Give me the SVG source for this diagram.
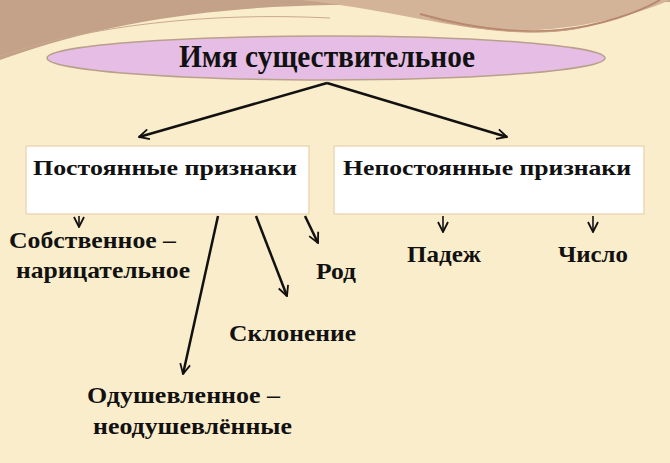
<svg xmlns="http://www.w3.org/2000/svg" width="670" height="463" viewBox="0 0 670 463">
<defs>
<style>
.t{font-family:"Liberation Serif","Times New Roman",serif;font-weight:bold;fill:#111;}
.box{fill:#fff;stroke:#ecd9b4;stroke-width:1.5;}
.ln{stroke:#111;stroke-width:2.5;fill:none;}
.sm{stroke:#111;stroke-width:1.6;fill:none;}
</style>
<marker id="ah" viewBox="0 0 12 12" refX="11" refY="6" markerWidth="12" markerHeight="12" markerUnits="userSpaceOnUse" orient="auto">
<path d="M1,1 L11,6 L1,11" fill="none" stroke="#111" stroke-width="1.8"/>
</marker>
</defs>
<rect x="0" y="0" width="670" height="463" fill="#faedcb"/>
<path d="M0,0 H670 V2 C560,4 420,3 330,5 C220,7 110,20 0,60 Z" fill="#c4a189"/>
<path d="M0,56 C90,25 210,12 330,18" fill="none" stroke="#c9a98f" stroke-width="1"/>
<path d="M300,0 C380,8 440,26 495,30 C560,34 630,18 670,0 Z" fill="#d3b498"/>
<path d="M420,14 C470,28 520,34 560,30 C600,26 640,12 660,0" fill="none" stroke="#b8896e" stroke-width="2"/>
<path d="M430,18 C480,32 540,36 580,28" fill="none" stroke="#c79c80" stroke-width="1"/>
<g id="root">
<ellipse cx="326" cy="58" rx="279" ry="22" fill="#e6bde5" stroke="#b9a08c" stroke-width="1.5"/>
<text class="t" x="179" y="67" font-size="31" textLength="296" lengthAdjust="spacingAndGlyphs">Имя существительное</text>
</g>
<g id="permanent">
<rect class="box" x="26" y="146" width="283" height="68"/>
<text class="t" x="33" y="175" font-size="22" textLength="264" lengthAdjust="spacingAndGlyphs">Постоянные признаки</text>
</g>
<g id="nonpermanent">
<rect class="box" x="334" y="146" width="310" height="68"/>
<text class="t" x="343" y="175" font-size="22" textLength="288" lengthAdjust="spacingAndGlyphs">Непостоянные признаки</text>
</g>
<g id="proper">
<text class="t" x="9" y="248" font-size="23" textLength="167" lengthAdjust="spacingAndGlyphs">Собственное –</text>
<text class="t" x="16" y="278" font-size="23" textLength="174" lengthAdjust="spacingAndGlyphs">нарицательное</text>
</g>
<g id="gender">
<text class="t" x="316" y="279" font-size="23" textLength="40" lengthAdjust="spacingAndGlyphs">Род</text>
</g>
<g id="declension">
<text class="t" x="229" y="341" font-size="23" textLength="127" lengthAdjust="spacingAndGlyphs">Склонение</text>
</g>
<g id="animate">
<text class="t" x="87" y="403" font-size="23" textLength="193" lengthAdjust="spacingAndGlyphs">Одушевленное –</text>
<text class="t" x="93" y="434" font-size="23" textLength="199" lengthAdjust="spacingAndGlyphs">неодушевлённые</text>
</g>
<g id="case">
<text class="t" x="407" y="262" font-size="23" textLength="74" lengthAdjust="spacingAndGlyphs">Падеж</text>
</g>
<g id="number">
<text class="t" x="558" y="262" font-size="23" textLength="70" lengthAdjust="spacingAndGlyphs">Число</text>
</g>
<g id="connectors">
<line class="ln" x1="327" y1="83" x2="139" y2="137" marker-end="url(#ah)"/>
<line class="ln" x1="327" y1="83" x2="507" y2="137" marker-end="url(#ah)"/>
<line class="sm" x1="79" y1="216" x2="79" y2="227" marker-end="url(#ah)"/>
<line class="ln" x1="218" y1="216" x2="183" y2="374" marker-end="url(#ah)"/>
<line class="ln" x1="256" y1="216" x2="287" y2="296" marker-end="url(#ah)"/>
<line class="ln" x1="305" y1="216" x2="318" y2="243" marker-end="url(#ah)"/>
<line class="sm" x1="443" y1="216" x2="443" y2="232" marker-end="url(#ah)"/>
<line class="sm" x1="593" y1="216" x2="593" y2="232" marker-end="url(#ah)"/>
</g>
</svg>
